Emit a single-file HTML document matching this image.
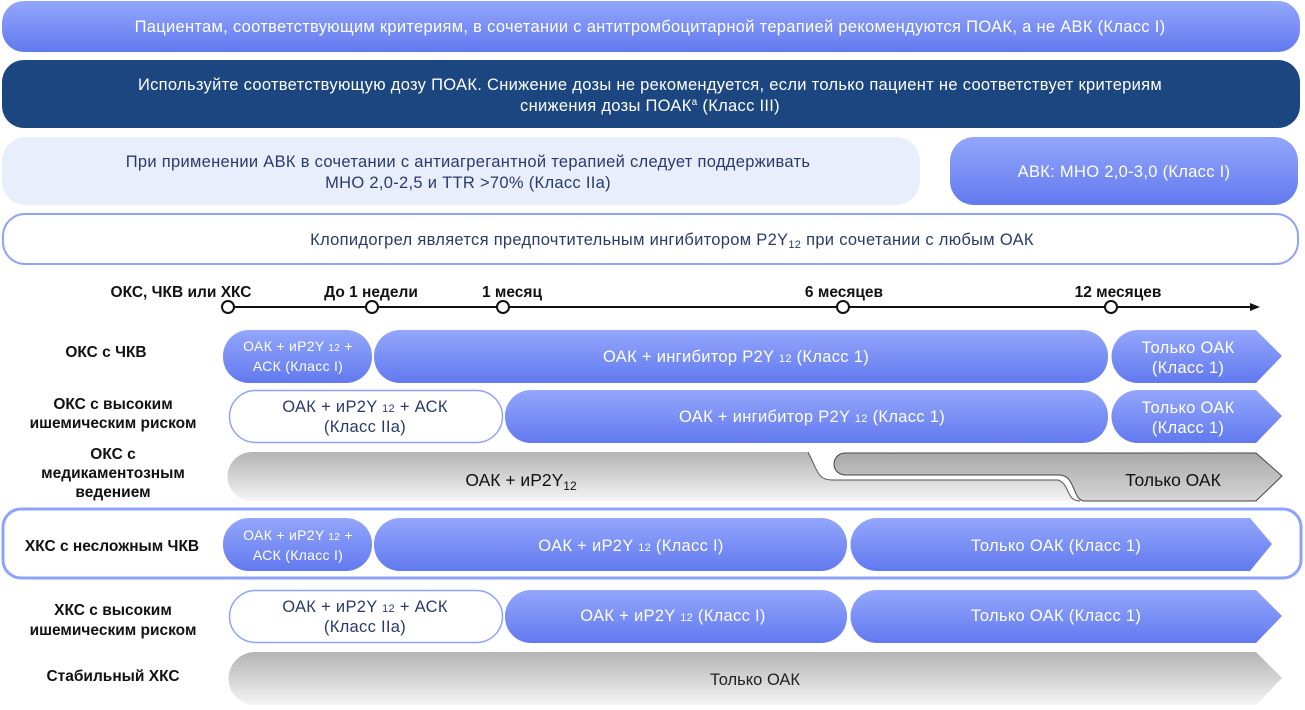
<!DOCTYPE html>
<html><head><meta charset="utf-8"><style>
html,body{margin:0;padding:0;background:#fff;}
svg{display:block;font-family:"Liberation Sans","DejaVu Sans",sans-serif;}
</style></head><body>
<svg width="1305" height="710" viewBox="0 0 1305 710" xmlns="http://www.w3.org/2000/svg">
<defs>
<linearGradient id="bl" x1="0" y1="0" x2="0" y2="1"><stop offset="0" stop-color="#93a7fb"/><stop offset="1" stop-color="#6279ef"/></linearGradient>
<linearGradient id="gr" x1="0" y1="0" x2="0" y2="1"><stop offset="0" stop-color="#b4b4b4"/><stop offset="1" stop-color="#f4f4f4"/></linearGradient>
<linearGradient id="gr2" x1="0" y1="0" x2="0" y2="1"><stop offset="0" stop-color="#a9a9a9"/><stop offset="1" stop-color="#d6d6d6"/></linearGradient>
</defs>
<!-- top bars -->
<rect x="2" y="1" width="1298" height="51" rx="22" fill="url(#bl)"/>
<text x="650" y="32" font-size="16.5" letter-spacing="0.3" fill="#fff" text-anchor="middle">Пациентам, соответствующим критериям, в сочетании с антитромбоцитарной терапией рекомендуются ПОАК, а не АВК (Класс I)</text>
<rect x="2" y="60" width="1298" height="68" rx="22" fill="#1c4680"/>
<text x="650" y="90" font-size="16.5" letter-spacing="0.3" fill="#fff" text-anchor="middle">Используйте соответствующую дозу ПОАК. Снижение дозы не рекомендуется, если только пациент не соответствует критериям</text>
<text x="650" y="111" font-size="16.5" letter-spacing="0.3" fill="#fff" text-anchor="middle">снижения дозы ПОАК<tspan font-size="10" dy="-6">a</tspan><tspan dy="6"> (Класс III)</tspan></text>
<rect x="2" y="137" width="918" height="68" rx="24" fill="#e8eefc"/>
<text x="468" y="167" font-size="16.5" letter-spacing="0.3" fill="#2a3a6c" text-anchor="middle">При применении АВК в сочетании с антиагрегантной терапией следует поддерживать</text>
<text x="468" y="188" font-size="16.5" letter-spacing="0.3" fill="#2a3a6c" text-anchor="middle">МНО 2,0-2,5 и TTR &gt;70% (Класс IIa)</text>
<rect x="950" y="137" width="348" height="68" rx="24" fill="url(#bl)"/>
<text x="1124" y="177" font-size="16.5" letter-spacing="0.3" fill="#fff" text-anchor="middle">АВК: МНО 2,0-3,0 (Класс I)</text>
<rect x="3" y="214" width="1295" height="50" rx="22" fill="#fff" stroke="#8ea3fb" stroke-width="2"/>
<text x="672" y="245" font-size="16.5" letter-spacing="0.3" fill="#2a3a6c" text-anchor="middle">Клопидогрел является предпочтительным ингибитором P2Y<tspan font-size="11" dy="3">12</tspan><tspan dy="-3"> при сочетании с любым ОАК</tspan></text>
<!-- highlighted box -->
<rect x="3" y="509" width="1298" height="69" rx="18" fill="#fff" stroke="#8ea3fb" stroke-width="3"/>
<!-- timeline -->
<line x1="228" y1="307" x2="1252" y2="307" stroke="#111" stroke-width="2"/>
<polygon points="1260,307 1250,303 1250,311" fill="#111"/>
<g fill="#fff" stroke="#111" stroke-width="2">
<circle cx="228" cy="307" r="6"/><circle cx="372" cy="307" r="6"/><circle cx="503" cy="307" r="6"/><circle cx="843" cy="307" r="6"/><circle cx="1111" cy="307" r="6"/></g>
<g font-size="15.5" font-weight="bold" fill="#111" text-anchor="middle">
<text x="181" y="297">ОКС, ЧКВ или ХКС</text>
<text x="371" y="297">До 1 недели</text>
<text x="512" y="297">1 месяц</text>
<text x="844" y="297">6 месяцев</text>
<text x="1118" y="297">12 месяцев</text>
<!-- row labels -->
<text x="106" y="357">ОКС с ЧКВ</text>
<text x="113" y="409">ОКС с высоким</text>
<text x="113" y="428">ишемическим риском</text>
<text x="113" y="459">ОКС с</text>
<text x="113" y="478">медикаментозным</text>
<text x="113" y="497">ведением</text>
<text x="112" y="551">ХКС с несложным ЧКВ</text>
<text x="113" y="615">ХКС с высоким</text>
<text x="113" y="635">ишемическим риском</text>
<text x="113" y="681">Стабильный ХКС</text>
</g>
<!-- row1 -->
<rect x="223" y="330" width="149" height="53" rx="26" fill="url(#bl)"/>
<rect x="374" y="330" width="734" height="53" rx="26" fill="url(#bl)"/>
<path d="M1138,330 H1256 L1282,356 L1256,383 H1138 A26,26 0 0 1 1138,330 Z" fill="url(#bl)"/>
<!-- row2 -->
<rect x="229.5" y="390.5" width="273" height="52" rx="26" fill="#fff" stroke="#8ea3fb" stroke-width="1.5"/>
<rect x="505" y="390" width="603" height="53" rx="26" fill="url(#bl)"/>
<path d="M1138,390 H1256 L1282,416 L1256,443 H1138 A26,26 0 0 1 1138,390 Z" fill="url(#bl)"/>
<!-- row3 -->
<path d="M252,452 H1256 L1282,476 L1256,501 H252 A24,24 0 0 1 252,452 Z" fill="url(#gr)"/>
<path d="M808,452 H1256 L1282,476 L1256,501 H1080 C1066,501 1070,484 1058,480 H832 C818,480 818,472 808,452 Z" fill="#fff"/>
<path d="M808,452 C818,472 818,480 832,480 H1058 C1070,484 1066,501 1080,501" fill="none" stroke="#555" stroke-width="1"/>
<path d="M845,453 H1256 L1282,476 L1256,501 H1085 C1072,501 1076,476 1060,475 H845 A11,11 0 0 1 845,453 Z" fill="url(#gr2)" stroke="#444" stroke-width="1"/>
<!-- row4 -->
<rect x="223" y="518" width="149" height="53" rx="26" fill="url(#bl)"/>
<rect x="374" y="518" width="473" height="53" rx="26" fill="url(#bl)"/>
<path d="M877,518 H1250 L1272,544 L1250,571 H877 A26,26 0 0 1 877,518 Z" fill="url(#bl)"/>
<!-- row5 -->
<rect x="229.5" y="590.5" width="273" height="52" rx="26" fill="#fff" stroke="#8ea3fb" stroke-width="1.5"/>
<rect x="505" y="590" width="342" height="53" rx="26" fill="url(#bl)"/>
<path d="M877,590 H1256 L1282,616 L1256,643 H877 A26,26 0 0 1 877,590 Z" fill="url(#bl)"/>
<!-- row6 -->
<path d="M255,652 H1256 L1282,678 L1256,705 H255 A26,26 0 0 1 255,652 Z" fill="url(#gr)"/>
<!-- texts -->
<g font-size="16.5" letter-spacing="0.3" fill="#fff" text-anchor="middle">
<text x="298" y="351" font-size="14">ОАК + иP2Y <tspan font-size="10">12</tspan> +</text>
<text x="298" y="371" font-size="14">АСК (Класс I)</text>
<text x="736" y="362">ОАК + ингибитор P2Y <tspan font-size="11">12</tspan> (Класс 1)</text>
<text x="1188" y="353">Только ОАК</text>
<text x="1188" y="373">(Класс 1)</text>
<text x="812" y="422">ОАК + ингибитор P2Y <tspan font-size="11">12</tspan> (Класс 1)</text>
<text x="1188" y="413">Только ОАК</text>
<text x="1188" y="433">(Класс 1)</text>
<text x="298" y="540" font-size="14">ОАК + иP2Y <tspan font-size="10">12</tspan> +</text>
<text x="298" y="560" font-size="14">АСК (Класс I)</text>
<text x="631" y="551">ОАК + иP2Y <tspan font-size="11">12</tspan> (Класс I)</text>
<text x="1056" y="551">Только ОАК (Класс 1)</text>
<text x="673" y="621">ОАК + иP2Y <tspan font-size="11">12</tspan> (Класс I)</text>
<text x="1056" y="621">Только ОАК (Класс 1)</text>
</g>
<g font-size="16.5" letter-spacing="0.3" fill="#2a3a6c" text-anchor="middle">
<text x="365" y="612">ОАК + иP2Y <tspan font-size="11">12</tspan> + АСК</text>
<text x="365" y="432">(Класс IIa)</text>
<text x="365" y="412">ОАК + иP2Y <tspan font-size="11">12</tspan> + АСК</text>
<text x="365" y="632">(Класс IIa)</text>
</g>
<text x="521" y="486" font-size="17.5" fill="#111" text-anchor="middle">ОАК + иP2Y<tspan font-size="12" dy="4">12</tspan></text>
<text x="1173" y="486" font-size="17.5" fill="#111" text-anchor="middle">Только ОАК</text>
<text x="755" y="685" font-size="16.5" fill="#222" text-anchor="middle">Только ОАК</text>
</svg>
</body></html>
